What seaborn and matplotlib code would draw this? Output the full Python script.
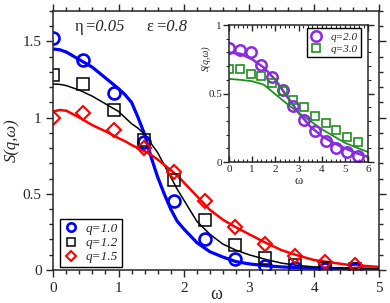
import matplotlib
matplotlib.use("Agg")
import matplotlib.pyplot as plt
from matplotlib.ticker import MultipleLocator
import seaborn as sns

# frequencies of the simulation points (same for all q)
omega_pts = [0.0, 0.46, 0.93, 1.39, 1.85, 2.32, 2.78, 3.24, 3.70, 4.17, 4.63, 5.09, 5.56]

# main panel: simulation points
s_q10 = [1.52, 1.38, 1.16, 0.84, 0.45, 0.20, 0.07, 0.025, 0.012, 0.006, 0.004]
s_q12 = [1.28, 1.22, 1.05, 0.85, 0.59, 0.33, 0.165, 0.08, 0.035, 0.012, 0.006]
s_q15 = [1.00, 1.03, 0.92, 0.80, 0.64, 0.45, 0.28, 0.17, 0.09, 0.05, 0.03]

# main panel: theory curves
omega_line = [0.0, 0.1, 0.2, 0.4, 0.6, 0.8, 1.0, 1.1, 1.2, 1.3, 1.4, 1.5, 1.6, 1.7, 1.8,
              1.9, 2.0, 2.2, 2.4, 2.6, 2.8, 3.0, 3.25, 3.5, 3.75, 4.0, 4.5, 5.0]
th_q10 = [1.45, 1.445, 1.43, 1.38, 1.33, 1.26, 1.19, 1.15, 1.10, 1.00, 0.89, 0.74, 0.61, 0.50, 0.40,
          0.32, 0.27, 0.18, 0.12, 0.085, 0.055, 0.04, 0.028, 0.02, 0.015, 0.011, 0.007, 0.005]
th_q12 = [1.22, 1.218, 1.21, 1.18, 1.14, 1.09, 1.04, 1.00, 0.96, 0.93, 0.89, 0.83, 0.77, 0.69, 0.61,
          0.53, 0.46, 0.32, 0.235, 0.17, 0.13, 0.10, 0.07, 0.045, 0.03, 0.02, 0.012, 0.008]
th_q15 = [1.04, 1.05, 1.045, 1.00, 0.95, 0.91, 0.865, 0.845, 0.82, 0.80, 0.78, 0.755, 0.725, 0.69, 0.655,
          0.62, 0.575, 0.485, 0.395, 0.33, 0.28, 0.235, 0.18, 0.13, 0.095, 0.065, 0.035, 0.02]

# inset: simulation points and theory
s_q20 = [0.834, 0.82, 0.80, 0.71, 0.62, 0.525, 0.41, 0.31, 0.225, 0.155, 0.105, 0.07, 0.045]
s_q30 = [0.68, 0.68, 0.64, 0.63, 0.575, 0.52, 0.455, 0.40, 0.335, 0.285, 0.237, 0.183, 0.146]
omega_inset = [0.0, 0.5, 1.0, 1.5, 2.0, 2.5, 3.0, 3.5, 4.0, 4.5, 5.0, 5.5, 6.0]
th_q20 = [0.80, 0.79, 0.75, 0.69, 0.60, 0.48, 0.36, 0.26, 0.19, 0.14, 0.10, 0.065, 0.037]
th_q30 = [0.607, 0.60, 0.59, 0.565, 0.495, 0.425, 0.36, 0.30, 0.24, 0.19, 0.14, 0.105, 0.073]

sns.set_style("ticks")
plt.rcParams["font.family"] = ["Liberation Serif", "DejaVu Serif"]
plt.rcParams["axes.linewidth"] = 1.1

fig = plt.figure(figsize=(3.9, 3.03), dpi=100)
ax = fig.add_axes([0.1367, 0.109, 0.836, 0.855])

n = len(s_q10)
sns.lineplot(x=omega_line, y=th_q10, ax=ax, color="#0000ff", lw=2.3)
sns.lineplot(x=omega_line, y=th_q12, ax=ax, color="black", lw=1.1)
sns.lineplot(x=omega_line, y=th_q15, ax=ax, color="#ff0000", lw=1.8)
sns.lineplot(x=omega_pts[:n], y=s_q10, ax=ax, linestyle="none", marker="o", ms=8.6,
             mfc="none", mec="#0000ff", mew=1.9, label="q=1.0")
sns.lineplot(x=omega_pts[:n], y=s_q12, ax=ax, linestyle="none", marker="s", ms=8.0,
             mfc="none", mec="black", mew=1.1, label="q=1.2")
sns.lineplot(x=omega_pts[:n], y=s_q15, ax=ax, linestyle="none", marker="D", ms=7.0,
             mfc="none", mec="#ff0000", mew=1.5, label="q=1.5")

ax.set_xlim(0, 5)
ax.set_ylim(0, 1.7)
ax.set_xticks([0, 1, 2, 3, 4, 5])
ax.set_yticks([0, 0.5, 1, 1.5])
ax.set_yticklabels(["0", "0.5", "1", "1.5"])
ax.xaxis.set_minor_locator(MultipleLocator(0.2))
ax.yaxis.set_minor_locator(MultipleLocator(0.1))
ax.tick_params(which="both", direction="out", top=True, right=True, labelsize=11, width=1.0)
ax.tick_params(which="major", length=5)
ax.tick_params(which="minor", length=3)
ax.set_xlabel("ω", fontsize=13)
ax.xaxis.set_label_coords(0.5, -0.062)
ax.set_ylabel("S(q,ω)", fontsize=12, style="italic", labelpad=2)

leg = ax.legend(loc="lower left", bbox_to_anchor=(0.022, 0.01), borderaxespad=0,
                fancybox=False, edgecolor="black", framealpha=1, markerscale=0.7,
                prop={"style": "italic", "size": 9.5}, handlelength=1.0,
                handletextpad=0.6, borderpad=0.3, labelspacing=0.15)
leg.get_frame().set_linewidth(1.0)

ty = 0.938
ax.text(0.066, ty, "η", transform=ax.transAxes, fontsize=12, va="center")
ax.text(0.094, ty, "=0.05", transform=ax.transAxes, fontsize=12, style="italic", va="center")
ax.text(0.286, ty, "ε", transform=ax.transAxes, fontsize=12, va="center")
ax.text(0.312, ty, "=0.8", transform=ax.transAxes, fontsize=12, style="italic", va="center")

# inset
axi = fig.add_axes([0.587, 0.4653, 0.357, 0.452])
axi.set_facecolor("white")
sns.lineplot(x=omega_inset, y=th_q20, ax=axi, color="#8a2be2", lw=1.8)
sns.lineplot(x=omega_inset, y=th_q30, ax=axi, color="#1f8f1f", lw=1.3)
sns.lineplot(x=omega_pts, y=s_q20, ax=axi, linestyle="none", marker="o", ms=7.5,
             mfc="none", mec="#8a2be2", mew=1.8, label="q=2.0")
sns.lineplot(x=omega_pts, y=s_q30, ax=axi, linestyle="none", marker="s", ms=6.3,
             mfc="none", mec="#1f8f1f", mew=1.2, label="q=3.0")
axi.set_xlim(0, 6)
axi.set_ylim(0, 1)
axi.set_xticks(range(7))
axi.set_yticks([0, 0.5, 1])
axi.set_yticklabels(["0", "0.5", "1"])
axi.xaxis.set_minor_locator(MultipleLocator(0.2))
axi.yaxis.set_minor_locator(MultipleLocator(0.1))
axi.tick_params(axis="x", which="both", direction="in", top=True, labelsize=8, pad=2)
axi.tick_params(axis="y", which="both", direction="out", right=True, labelsize=8, pad=1)
axi.tick_params(which="major", length=4, width=1.0)
axi.tick_params(which="minor", length=2, width=0.8)
axi.set_xlabel("ω", fontsize=9, labelpad=1)
axi.set_ylabel("S(q,ω)", fontsize=7, style="italic")
axi.yaxis.set_label_coords(-0.13, 0.76)

legi = axi.legend(loc="upper right", bbox_to_anchor=(0.95, 0.975), borderaxespad=0,
                  fancybox=False, edgecolor="black", framealpha=1,
                  prop={"style": "italic", "size": 8}, handlelength=1.0,
                  handletextpad=0.8, borderpad=0.3, labelspacing=0.2)
legi.get_frame().set_linewidth(1.0)

fig.savefig("out.png", dpi=100)
